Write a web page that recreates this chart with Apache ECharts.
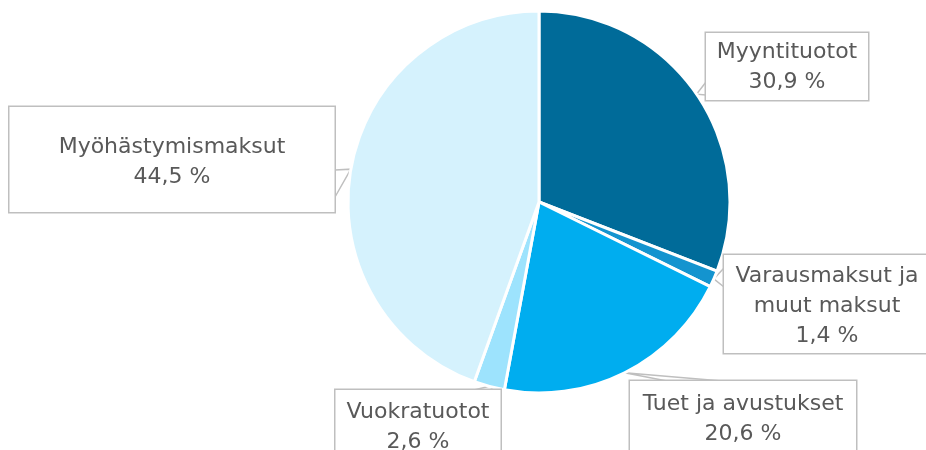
<!DOCTYPE html>
<html>
<head>
<meta charset="utf-8">
<script src="https://cdn.jsdelivr.net/npm/echarts@6/dist/echarts.min.js"></script>
<style>
  html, body { margin: 0; padding: 0; background: #fff; }
  #chart { width: 926px; height: 450px; }
</style>
</head>
<body>
<div id="chart"></div>
<script>
// Tulojen jakauma
const categories = ['Myyntituotot', 'Varausmaksut ja\nmuut maksut', 'Tuet ja avustukset', 'Vuokratuotot', 'Myöhästymismaksut']
const shares = [30.9, 1.4, 20.6, 2.6, 44.5]
const colors = ['#006b99', '#1494cf', '#00adef', '#9de3fd', '#d5f2fd']

// label boxes: center x, top y, width, padding, callout base on the box edge
const boxes = [
  { x: 787, y: 33, w: 162, pad: [4, 0, 3, 0], base: [[706, 82], [706, 95]] },
  { x: 827, y: 255, w: 206, pad: [6, 0, 2, 0], base: [[724, 268], [724, 287]] },
  { x: 743, y: 381, w: 226, pad: [8, 0, 10, 0], base: [[667, 381], [722, 381]] },
  { x: 418, y: 390, w: 165, pad: [7, 0, 10, 0], base: [[474, 390], [494, 390]] },
  { x: 172, y: 107, w: 325, pad: [25, 0, 20, 0], base: [[335, 170], [335, 197]] }
]

const chart = echarts.init(document.getElementById('chart'))

const pieData = categories.map((name, i) => ({
  name: name,
  value: shares[i],
  itemStyle: { color: colors[i] },
  label: { width: boxes[i].w, padding: boxes[i].pad }
}))

chart.setOption({
  backgroundColor: '#fff',
  animation: false,
  series: [{
    type: 'pie',
    center: [539, 202],
    radius: 191,
    startAngle: 90,
    clockwise: true,
    data: pieData,
    itemStyle: {
      borderColor: '#fff',
      borderWidth: 3
    },
    label: {
      show: true,
      position: 'outside',
      overflow: 'none',
      formatter: p => p.name + '\n' + String(p.value).replace('.', ',') + ' %',
      fontFamily: 'DejaVu Sans',
      fontSize: 22,
      lineHeight: 30,
      color: '#595959',
      align: 'center',
      backgroundColor: '#fff',
      borderColor: '#bfbfbf',
      borderWidth: 1.5
    },
    labelLine: {
      show: true,
      length: 4,
      length2: 6,
      lineStyle: { color: '#bfbfbf', width: 1.5 }
    },
    labelLayout: function (params) {
      const b = boxes[params.dataIndex]
      const tip = params.labelLinePoints ? params.labelLinePoints[0] : b.base[0]
      return {
        x: b.x,
        y: b.y,
        align: 'center',
        verticalAlign: 'top',
        labelLinePoints: [b.base[0], tip, b.base[1]]
      }
    }
  }]
})
</script>
</body>
</html>
